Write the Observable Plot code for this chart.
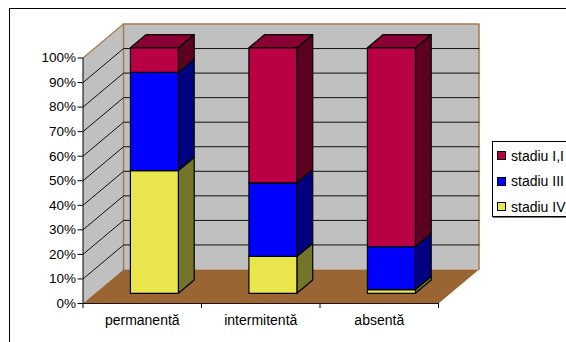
<!DOCTYPE html>
<html>
<head>
<meta charset="utf-8">
<script src="https://cdn.jsdelivr.net/npm/d3@7"></script>
<script src="https://cdn.jsdelivr.net/npm/@observablehq/plot@0.6"></script>
<style>
  html, body { margin: 0; padding: 0; background: #fff; overflow: hidden; }
  #page { position: relative; width: 566px; height: 342px; overflow: hidden; font-family: "Liberation Sans", Arial, sans-serif; }
  #frame { position: absolute; left: 9px; top: 7.5px; width: 600px; height: 400px; border: 1.3px solid #000; box-sizing: border-box; pointer-events: none; }
  #legend { position: absolute; left: 492px; top: 141px; width: 120px; height: 76px; box-sizing: border-box; background: #fff; border: 1px solid #000; box-shadow: 1px 1px 0 #777; font-size: 14px; color: #000; }
  .item { position: absolute; left: 4px; display: flex; align-items: center; height: 14px; white-space: nowrap; }
  .swatch { width: 7px; height: 7px; border: 1px solid #000; margin-right: 5px; flex: none; }
</style>
</head>
<body>
<div id="page">
  <div id="chart"></div>
  <div id="frame"></div>
  <div id="legend"></div>
</div>
<script>
// Stacked share of each disease stage, per category
const categories = ["permanentă", "intermitentă", "absentă"];
const stageNames = ["stadiu I,I", "stadiu III", "stadiu IV"];
const stadiuIV = [50, 15, 1.5];
const stadiuIII = [40, 30, 17.5];
const stadiuIAndII = [10, 55, 81];
const percentTicks = [0, 10, 20, 30, 40, 50, 60, 70, 80, 90, 100];

// Front, side and top shades for each stage
const stageColors = {
  "stadiu IV": {front: "#e8e64c", side: "#74742a", top: "#8c8c30"},
  "stadiu III": {front: "#0000ff", side: "#000080", top: "#0000a0"},
  "stadiu I,I": {front: "#b90045", side: "#5c0022", top: "#8a0034"}
};

// Oblique projection: depth runs from 0 (front of floor) to 1 (back wall),
// shifting a point sideways in category units and upward in percent units.
const depthX = 0.342;
const depthY = 13.85;
const px = (pos, depth) => pos + depth * depthX;
const py = (value, depth) => value + depth * depthY;

const barWidth = 0.405;
const barFront = 0.3;
const barBack = 0.69;

// Closed polygons expressed in data units, one row per corner
const faces = [];
function addFace(id, fill, corners) {
  corners.forEach(([pos, value, depth]) =>
    faces.push({id, fill, x: px(pos, depth), y: py(value, depth)}));
}

const stacks = [
  {name: "stadiu IV", values: stadiuIV},
  {name: "stadiu III", values: stadiuIII},
  {name: "stadiu I,I", values: stadiuIAndII}
];

const wallGray = "#c0c0c0";
const floorBrown = "#996633";
addFace("wall-side", wallGray, [[0, 0, 0], [0, 100, 0], [0, 100, 1], [0, 0, 1]]);
addFace("wall-back", wallGray, [[0, 0, 1], [0, 100, 1], [3, 100, 1], [3, 0, 1]]);
const shellFaces = faces.splice(0);
addFace("floor", floorBrown, [[0, 0, 0], [3, 0, 0], [3, 0, 1], [0, 0, 1]]);
const floorFaces = faces.splice(0);

// Bars: side faces and cap first, then the front face on top
categories.forEach((cat, i) => {
  const left = i + 0.5 - barWidth / 2;
  const right = left + barWidth;
  let base = 0;
  stacks.forEach(({name, values}, s) => {
    const top = base + values[i];
    const c = stageColors[name];
    addFace(`${cat}-${name}-side`, c.side, [[right, base, barFront], [right, top, barFront], [right, top, barBack], [right, base, barBack]]);
    if (s === stacks.length - 1) {
      addFace(`${cat}-${name}-top`, c.top, [[left, top, barFront], [right, top, barFront], [right, top, barBack], [left, top, barBack]]);
    }
    addFace(`${cat}-${name}-front`, c.front, [[left, base, barFront], [right, base, barFront], [right, top, barFront], [left, top, barFront]]);
    base = top;
  });
});

// Grid lines run along the side wall and across the back wall
const gridRows = percentTicks.filter(v => v > 0 && v < 100).flatMap(v => [
  {id: v, x: px(0, 0), y: py(v, 0)},
  {id: v, x: px(0, 1), y: py(v, 1)},
  {id: v, x: px(3, 1), y: py(v, 1)}
]);
const upperEdge = [
  {x: px(0, 0), y: py(100, 0)},
  {x: px(0, 1), y: py(100, 1)}
];
const backOutline = [
  {x: px(0, 1), y: py(0, 1)},
  {x: px(0, 1), y: py(100, 1)},
  {x: px(3, 1), y: py(100, 1)},
  {x: px(3, 1), y: py(0, 1)}
];

const polygon = (data, options) => Plot.line(data, {x: "x", y: "y", z: "id", curve: "linear-closed", ...options});

const chart = Plot.plot({
  width: 566,
  height: 342,
  marginLeft: 82.5,
  marginRight: 128,
  marginTop: 57.5,
  marginBottom: 39,
  style: {fontFamily: "'Liberation Sans', Arial, sans-serif", fontSize: "14px", background: "transparent", color: "#000", overflow: "visible"},
  x: {type: "linear", domain: [0, 3], axis: null},
  y: {type: "linear", domain: [0, 100], axis: null},
  color: {type: "identity"},
  marks: [
    polygon(shellFaces, {fill: "fill", stroke: "none"}),
    Plot.line(backOutline, {x: "x", y: "y", stroke: "#a87a4c", strokeWidth: 1.5}),
    Plot.line(upperEdge, {x: "x", y: "y", stroke: "#a87a4c", strokeWidth: 1.2}),
    Plot.line(gridRows, {x: "x", y: "y", z: "id", stroke: "#111", strokeWidth: 1}),
    polygon(floorFaces, {fill: "fill", stroke: "none"}),
    polygon(faces, {fill: "fill", stroke: "#000", strokeWidth: 1.2}),
    Plot.ruleX([0], {stroke: "#000", strokeWidth: 1}),
    Plot.ruleY([0], {stroke: "#221100", strokeWidth: 1.2}),
    Plot.axisY({ticks: percentTicks, tickFormat: d => d + "%", label: null, tickSize: 5, tickPadding: 2, fontSize: 13.5, fill: "#000", stroke: "#000"}),
    Plot.axisX({ticks: [0, 1, 2, 3], tickFormat: null, label: null, tickSize: 5, stroke: "#000", text: null}),
    Plot.axisX({ticks: [0.5, 1.5, 2.5], tickFormat: d => categories[d - 0.5], label: null, tickSize: 0, tickPadding: 12, fontSize: 14, fill: "#000"})
  ]
});
document.getElementById("chart").appendChild(chart);

// Legend box sits to the right of the plot and runs off the page edge
const legend = d3.select("#legend");
stageNames.forEach((name, i) => {
  const item = legend.append("div").attr("class", "item").style("top", `${6.5 + i * 25.5}px`);
  item.append("span").attr("class", "swatch").style("background", stageColors[name].front);
  item.append("span").text(name);
});
</script>
</body>
</html>
